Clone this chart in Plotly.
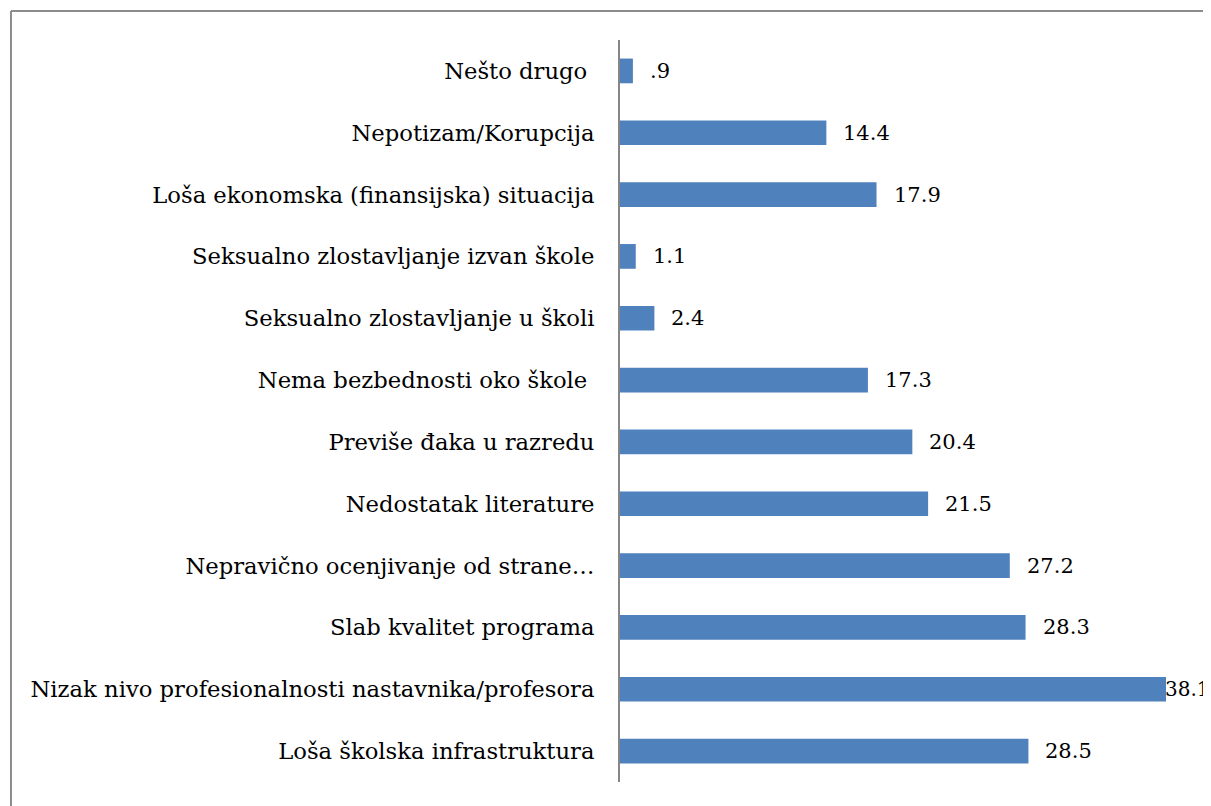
import plotly.graph_objects as go

# categories bottom -> top
categories = [
    "Loša školska infrastruktura",
    "Nizak nivo profesionalnosti nastavnika/profesora",
    "Slab kvalitet programa",
    "Nepravično ocenjivanje od strane…",
    "Nedostatak literature",
    "Previše đaka u razredu",
    "Nema bezbednosti oko škole ",
    "Seksualno zlostavljanje u školi",
    "Seksualno zlostavljanje izvan škole",
    "Loša ekonomska (finansijska) situacija",
    "Nepotizam/Korupcija",
    "Nešto drugo ",
]
values = [28.5, 38.1, 28.3, 27.2, 21.5, 20.4, 17.3, 2.4, 1.1, 17.9, 14.4, 0.9]
value_labels = ["28.5", "38.1", "28.3", "27.2", "21.5", "20.4", "17.3", "2.4", "1.1", "17.9", "14.4", ".9"]

font_family = "DejaVu Serif"

fig = go.Figure()
fig.add_trace(go.Bar(
    y=categories,
    x=values,
    orientation="h",
    marker=dict(color="#4F81BD", line=dict(width=0)),
    width=0.4,
    hoverinfo="skip",
))

for cat, val, lab in zip(categories, values, value_labels):
    # biggest bar label hugs its bar (it runs into the edge)
    if val > 35:
        shift, size = -2, 20
    else:
        shift, size = 16, 21
    fig.add_annotation(
        x=val, y=cat, text=lab, showarrow=False,
        xanchor="left", yanchor="middle", xshift=shift, borderpad=0,
        font=dict(family=font_family, size=size, color="black"),
    )

# chart border (top and left visible)
fig.add_shape(type="line", xref="paper", yref="paper",
              x0=-1.0305, x1=1.02, y0=1.039, y1=1.039,
              line=dict(color="#8C8C8C", width=2))
fig.add_shape(type="line", xref="paper", yref="paper",
              x0=-1.0305, x1=-1.0305, y0=1.039, y1=-0.05,
              line=dict(color="#8C8C8C", width=2))

# page adds an 8px body margin, so the figure is 8px smaller
fig.update_layout(
    width=1203, height=798,
    margin=dict(l=612, r=0, t=32, b=24),
    paper_bgcolor="white", plot_bgcolor="white",
    showlegend=False,
    font=dict(family=font_family, size=23, color="black"),
    xaxis=dict(range=[0, 41.24], visible=False),
    yaxis=dict(
        showline=True, linecolor="#868686", linewidth=2,
        ticks="", ticklabelstandoff=19,
        tickfont=dict(family=font_family, size=22.7, color="black"),
        categoryorder="array", categoryarray=categories,
        range=[-0.5, 11.5],
    ),
)

fig.write_html("out.html")
